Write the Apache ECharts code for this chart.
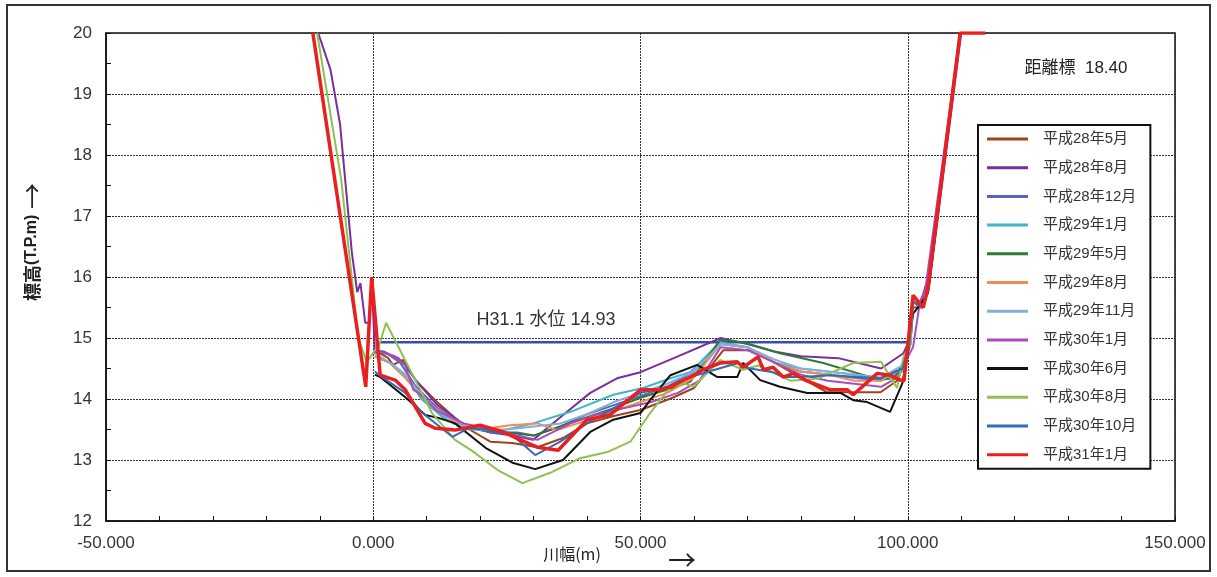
<!DOCTYPE html>
<html lang="ja">
<head>
  <meta charset="utf-8">
  <title>横断図 距離標 18.40</title>
  <script src="https://cdn.jsdelivr.net/npm/echarts@6/dist/echarts.min.js"></script>
  <style>
    html, body { margin: 0; padding: 0; background: #fff; }
    #main { width: 1217px; height: 577px; }
  </style>
</head>
<body>
  <div id="main"></div>
  <script>
    // 凡例名と色
    var seriesNames = ['平成28年5月', '平成28年8月', '平成28年12月', '平成29年1月', '平成29年5月', '平成29年8月',
      '平成29年11月', '平成30年1月', '平成30年6月', '平成30年8月', '平成30年10月', '平成31年1月'];
    var seriesColors = ['#A0421E', '#7A2E9E', '#5B62BE', '#3DB8C8', '#2E7A34', '#F08C50',
      '#86AEDC', '#A84DBC', '#111111', '#8DC250', '#2F6DB8', '#E8201E'];

    // 軸の目盛
    var xTicks = [-50, 0, 50, 100, 150];
    var yTicks = [12, 13, 14, 15, 16, 17, 18, 19, 20];

    // 水位
    var waterLevel = 14.93;
    var waterRange = [1.3, 100];

    // 各測量の断面 [川幅(m), 標高(T.P.m)]
    var s28_5 = [[0.3,14.8],[2.8,14.67],[3.7,14.56],[5.6,14.64],[8,14.3],[11.6,13.98],[15.3,13.69],[18,13.5],[21.9,13.3],[26,13.28],[30.7,13.21],[35.5,13.36],[40,13.6],[45,13.72],[50,13.82],[56,14.02],[60,14.18],[65.5,14.8],[70.5,14.8],[75,14.6],[80,14.35],[84.9,14.11],[90,14.11],[94.9,14.11],[98,14.3],[99.5,14.6],[101,15.5],[102.8,15.5],[103.8,15.75],[109.8,20]];
    var s28_8 = [[-10.3,20],[-8,19.4],[-6.2,18.5],[-4,16.4],[-3,15.75],[-2.4,15.9],[-1.5,15.25],[-0.8,15.25],[-0.3,16.0],[0.3,14.75],[2,14.77],[4.7,14.67],[6,14.55],[8,14.3],[12,13.9],[17,13.58],[22,13.45],[26,13.4],[29.9,13.33],[35,13.7],[40.6,14.1],[45.6,14.34],[50,14.44],[57,14.7],[65,15.0],[70,14.9],[75,14.78],[80,14.7],[87,14.67],[95,14.5],[99.2,14.75],[100.5,15.0],[101,15.6],[102.3,15.5],[103.3,15.85],[104,15.85],[110,20]];
    var s28_12 = [[0.3,14.8],[2,14.78],[5,14.6],[8,14.2],[12,13.85],[17,13.55],[22,13.45],[27,13.45],[30,13.4],[35,13.55],[40,13.75],[45,13.9],[50,14.05],[55,14.2],[60,14.45],[65,14.9],[70,14.85],[75,14.6],[80,14.45],[85,14.4],[90,14.35],[95,14.3],[99,14.5],[100.5,14.9],[101,15.6],[102.8,15.5],[103.8,15.8],[109.8,20]];
    var s29_1 = [[0.3,14.7],[3,14.6],[6,14.4],[9,14.0],[13,13.7],[18,13.5],[24.3,13.49],[29.9,13.6],[36.9,13.79],[44.9,14.07],[50.5,14.18],[55.6,14.34],[59.3,14.44],[64.9,14.93],[70,14.85],[75,14.6],[80,14.5],[85,14.45],[90,14.4],[95,14.35],[99,14.45],[100.5,14.9],[101,15.6],[102.8,15.5],[103.8,15.8],[109.8,20]];
    var s29_5 = [[0.3,14.7],[3,14.6],[6,14.35],[10,13.95],[15,13.6],[20,13.5],[25,13.45],[30,13.4],[35,13.55],[40,13.7],[45,13.85],[50,14.02],[56,14.18],[59.3,14.28],[64.9,14.97],[69.2,14.93],[76.1,14.75],[84.2,14.59],[94.9,14.31],[97.5,14.35],[99.3,14.6],[100.5,14.9],[101,15.6],[102.8,15.5],[103.8,15.8],[109.8,20]];
    var s29_8 = [[0.3,14.7],[3,14.6],[6,14.35],[10,13.95],[15,13.65],[20,13.5],[25.6,13.57],[30.7,13.6],[34.4,13.49],[40,13.65],[45,13.8],[50,13.95],[55,14.1],[60,14.35],[65,14.9],[70,14.85],[75,14.6],[80,14.45],[85,14.4],[90,14.3],[95,14.3],[99,14.5],[100.5,14.9],[101,15.6],[102.8,15.5],[103.8,15.8],[109.8,20]];
    var s29_11 = [[0.3,14.75],[3,14.6],[6,14.4],[10,13.95],[15,13.6],[20,13.5],[25,13.5],[30,13.55],[35,13.6],[40,13.75],[45,13.95],[50,14.1],[55,14.25],[60,14.45],[65,14.9],[70,14.85],[75,14.65],[80,14.5],[85,14.45],[90,14.4],[95,14.35],[99,14.55],[100.5,14.9],[101,15.6],[102.8,15.5],[103.8,15.8],[109.8,20]];
    var s30_1 = [[0.3,14.8],[2,14.75],[4,14.7],[6,14.55],[7.5,14.15],[8.5,14.1],[12,13.8],[17,13.6],[22,13.5],[27,13.4],[30.7,13.33],[36.9,13.6],[42,13.75],[47,13.85],[52,13.95],[57,14.1],[61,14.3],[65,14.85],[70,14.8],[75,14.6],[80,14.4],[85,14.3],[90,14.25],[95,14.2],[98,14.35],[99.5,14.6],[101,14.85],[102.3,15.6],[103.3,15.8],[109.8,20]];
    var s30_6 = [[0.3,14.4],[1.3,14.36],[6,14.03],[9.7,13.74],[12.2,13.69],[15.3,13.6],[21,13.2],[26.2,12.95],[30.3,12.85],[35.5,13.0],[40.6,13.46],[44.9,13.66],[50,13.77],[51.8,13.98],[55.6,14.39],[60.6,14.56],[64.4,14.36],[68.1,14.36],[69.2,14.59],[72.4,14.31],[76.1,14.2],[81.2,14.1],[87.4,14.1],[89.8,13.98],[92.4,13.95],[96.7,13.79],[99,14.26],[100.3,14.9],[101,15.4],[102.8,15.6],[103.8,15.75],[109.8,20]];
    var s30_8 = [[-10.5,20],[-6,17.6],[-2.8,15.0],[-1.2,14.6],[0.3,14.8],[1,14.85],[2.4,15.25],[11,13.77],[15.3,13.33],[18.5,13.15],[23.2,12.84],[27.9,12.62],[33.1,12.79],[38.7,13.03],[43.8,13.13],[48.1,13.3],[51.8,13.77],[55.6,14.2],[58,14.26],[59.9,14.2],[64.9,14.64],[69.2,14.48],[72,14.55],[78,14.3],[83,14.33],[89.8,14.59],[95,14.61],[98,14.18],[99.2,14.69],[100.5,14.9],[101,15.6],[102.8,15.5],[103.8,15.8],[109.8,20]];
    var s30_10 = [[0.3,14.45],[1.3,14.38],[6,14.1],[9.2,13.77],[14.8,13.38],[17.8,13.52],[21,13.5],[26,13.41],[30.3,13.08],[35,13.3],[40,13.6],[45,13.85],[50,14.1],[55,14.2],[59.3,14.36],[65.5,14.52],[68.3,14.59],[70,14.51],[74.8,14.44],[76.7,14.36],[79.9,14.36],[85.5,14.39],[94.9,14.34],[99,14.5],[100.3,14.9],[101,15.6],[102.8,15.5],[103.8,15.8],[109.8,20]];
    var s31_1 = [[-11.3,20],[-1.4,14.2],[-0.3,16.0],[1.3,14.39],[4.1,14.31],[6,14.15],[9.7,13.6],[11.6,13.52],[15.3,13.49],[18.3,13.54],[20,13.57],[24.3,13.46],[27.5,13.33],[30.7,13.21],[34.6,13.16],[40,13.66],[44.3,13.74],[50,14.15],[53.7,14.15],[55.6,14.2],[59.3,14.36],[61.7,14.48],[64.9,14.59],[68.1,14.61],[69.2,14.52],[72,14.69],[73,14.48],[74.8,14.52],[76.7,14.36],[78.6,14.42],[80.8,14.31],[85.5,14.15],[88.7,14.15],[89.8,14.07],[94.3,14.42],[96.7,14.39],[98.6,14.31],[99.3,14.3],[101,15.7],[102.9,15.5],[103.8,15.84],[109.8,20],[114.5,20]];

    var allData = [s28_5, s28_8, s28_12, s29_1, s29_5, s29_8, s29_11, s30_1, s30_6, s30_8, s30_10, s31_1];

    var font = "'Liberation Sans', 'Noto Sans CJK JP', sans-serif";
    var cjk = "'Noto Sans CJK JP', sans-serif";
    var myChart = echarts.init(document.getElementById('main'));

    var series = [{
      // 水位線
      name: '水位',
      type: 'line',
      symbol: 'none',
      silent: true,
      lineStyle: { color: '#3A4CB4', width: 2.5 },
      data: [[waterRange[0], waterLevel], [waterRange[1], waterLevel]],
      z: 1
    }];
    for (var i = 0; i < allData.length; i++) {
      series.push({
        name: seriesNames[i],
        type: 'line',
        symbol: 'none',
        color: seriesColors[i],
        lineStyle: { color: seriesColors[i], width: i === 11 ? 3.5 : 2 },
        data: allData[i],
        z: 2 + i
      });
    }

    var option = {
      animation: false,
      backgroundColor: '#fff',
      grid: {
        left: 106, right: 42, top: 33, bottom: 56,
        show: true, borderColor: '#111', borderWidth: 1.5, backgroundColor: '#fff'
      },
      xAxis: {
        type: 'value',
        min: xTicks[0], max: xTicks[xTicks.length - 1], interval: 50,
        axisLine: { show: true, onZero: false, lineStyle: { color: '#111', width: 1.5 } },
        axisTick: { show: true, inside: true, length: 5, lineStyle: { color: '#111' } },
        minorTick: { show: true, splitNumber: 5, length: 5, lineStyle: { color: '#111' } },
        splitLine: { show: true, lineStyle: { color: '#333', type: [2, 1], width: 1 } },
        axisLabel: {
          margin: 14, fontSize: 17, color: '#333', fontFamily: font,
          formatter: function (v) { return v.toFixed(3); }
        }
      },
      yAxis: {
        type: 'value',
        min: yTicks[0], max: yTicks[yTicks.length - 1], interval: 1,
        axisLine: { show: true, onZero: false, lineStyle: { color: '#111', width: 1.5 } },
        axisTick: { show: true, inside: true, length: 5, lineStyle: { color: '#111' } },
        minorTick: { show: true, splitNumber: 2, length: 5, lineStyle: { color: '#111' } },
        splitLine: { show: true, lineStyle: { color: '#333', type: [2, 1], width: 1 } },
        axisLabel: { margin: 14, fontSize: 17, color: '#333', fontFamily: font }
      },
      legend: {
        data: seriesNames,
        orient: 'vertical',
        left: 978, top: 125,
        padding: [5, 14, 5, 9],
        itemWidth: 41, itemHeight: 3, itemGap: 10.7,
        icon: 'rect',
        backgroundColor: '#fff',
        borderColor: '#111', borderWidth: 2,
        textStyle: { fontSize: 15, lineHeight: 18, color: '#333', fontFamily: font, padding: [0, 0, 0, 10] }
      },
      graphic: [
        // 外枠
        { type: 'rect', shape: { x: 7, y: 5, width: 1203, height: 566 }, style: { fill: 'none', stroke: '#333', lineWidth: 2 }, z: 100 },
        { type: 'text', x: 32, y: 242, rotation: Math.PI / 2,
          style: {
            text: '{a|標高}{b|(T.P.m)}{c| →}', align: 'center', verticalAlign: 'middle',
            rich: {
              a: { font: 'bold 18px ' + cjk, fill: '#222' },
              b: { font: 'bold 16px ' + font, fill: '#222' },
              c: { font: '26px ' + cjk, fill: '#222' }
            }
          } },
        { type: 'text', x: 572, y: 554,
          style: { text: '川幅(m)', font: '16px ' + cjk, fill: '#222', align: 'center', verticalAlign: 'middle' } },
        { type: 'text', x: 682, y: 560,
          style: { text: '→', font: '28px ' + cjk, fill: '#222', align: 'center', verticalAlign: 'middle' } },
        { type: 'text', x: 1076, y: 68,
          style: { text: '距離標  18.40', font: '17px ' + font, fill: '#222', align: 'center', verticalAlign: 'middle' } },
        { type: 'text', x: 546, y: 320,
          style: { text: 'H31.1 水位 14.93', font: '18px ' + font, fill: '#333', align: 'center', verticalAlign: 'middle' } }
      ],
      series: series
    };

    myChart.setOption(option);
  </script>
</body>
</html>
